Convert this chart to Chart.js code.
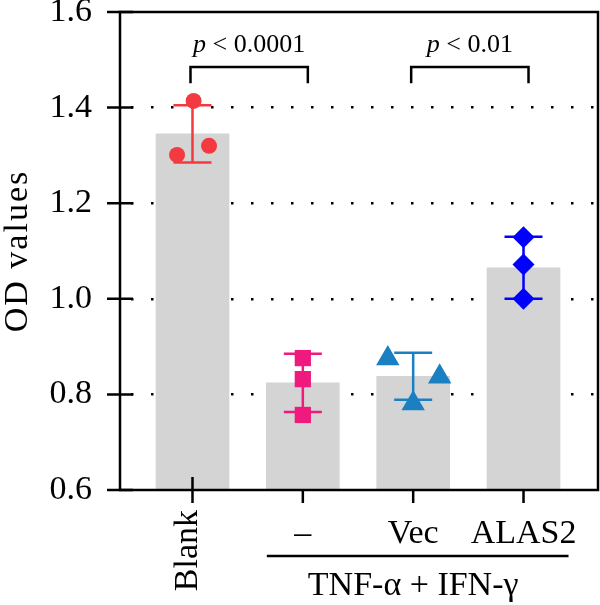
<!DOCTYPE html>
<html>
<head>
<meta charset="utf-8">
<script src="https://cdn.jsdelivr.net/npm/chart.js@4.4.0/dist/chart.umd.min.js"></script>
<style>
  html, body { margin: 0; padding: 0; background: #fff; }
  #wrap { position: relative; width: 600px; height: 605px; }
</style>
</head>
<body>
<div id="wrap"><canvas id="odChart"></canvas></div>
<script>
// ---- data ----
const groups = ['Blank', '–', 'Vec', 'ALAS2'];
const barMeans = [1.345, 0.824, 0.838, 1.065];
const errSD = [0.060, 0.061, 0.049, 0.065];
const replicates = [
    [1.414, 1.301, 1.320],
    [0.876, 0.832, 0.757],
    [0.875, 0.837, 0.781],
    [1.129, 1.072, 1.000]
];
// horizontal scatter of the replicate dots, in category units
const jitter = [
    [0.01, -0.14, 0.15],
    [0, 0, 0],
    [-0.23, 0.24, 0],
    [0, 0, 0]
];
const yTicks = [0.6, 0.8, 1.0, 1.2, 1.4, 1.6];
const comparisons = [[0, 1, '< 0.0001'], [2, 3, '< 0.01']];
const treatLabel = 'TNF-α + IFN-γ';

const pointColors = ['#f23a40', '#f01a7e', '#1a80c2', '#0000ff'];
const pointShapes = ['circle', 'rect', 'triangle', 'rectRot'];
const pointSizes = [8, 11.5, 13.5, 11];
const SERIF = '"Liberation Serif", "DejaVu Serif", serif';

// =================================================================
// 오차막대, 축 프레임, 라벨, 유의성 괄호
// =================================================================
const odDecor = {
    id: 'odDecor',
    afterDatasetDraw(chart, args) {
        if (args.index !== 0) return;
        const { ctx, scales: { x, y } } = chart;
        ctx.save();
        ctx.lineWidth = 2.5;
        barMeans.forEach((m, i) => {
            const cx = x.getPixelForValue(i);
            const top = y.getPixelForValue(m + errSD[i]);
            const bot = y.getPixelForValue(m - errSD[i]);
            ctx.strokeStyle = pointColors[i];
            ctx.beginPath();
            ctx.moveTo(cx, top); ctx.lineTo(cx, bot);
            ctx.moveTo(cx - 19, top); ctx.lineTo(cx + 19, top);
            ctx.moveTo(cx - 19, bot); ctx.lineTo(cx + 19, bot);
            ctx.stroke();
        });
        ctx.restore();
    },
    afterDraw(chart) {
        const { ctx, chartArea: a, scales: { x, y } } = chart;
        ctx.save();
        ctx.strokeStyle = '#000';
        ctx.fillStyle = '#000';
        ctx.lineWidth = 2.5;

        // frame
        ctx.strokeRect(a.left, a.top, a.right - a.left, a.bottom - a.top);

        // y ticks cross the axis
        ctx.beginPath();
        yTicks.forEach(v => {
            const py = y.getPixelForValue(v);
            ctx.moveTo(a.left - 13, py); ctx.lineTo(a.left + 13, py);
        });
        // x ticks
        groups.forEach((g, i) => {
            const px = x.getPixelForValue(i);
            ctx.moveTo(px, i === 0 ? a.bottom - 13 : a.bottom);
            ctx.lineTo(px, a.bottom + 13);
        });
        ctx.stroke();

        // y title
        ctx.save();
        ctx.font = '34px ' + SERIF;
        ctx.letterSpacing = '2px';
        ctx.translate(27, (a.top + a.bottom) / 2);
        ctx.rotate(-Math.PI / 2);
        ctx.textAlign = 'center';
        ctx.textBaseline = 'alphabetic';
        ctx.fillText('OD values', 0, 0);
        ctx.restore();

        // x labels
        ctx.font = '34px ' + SERIF;
        ctx.save();
        ctx.translate(x.getPixelForValue(0) + 5, a.bottom + 20);
        ctx.rotate(-Math.PI / 2);
        ctx.textAlign = 'right';
        ctx.textBaseline = 'alphabetic';
        ctx.fillText(groups[0], 0, 0);
        ctx.restore();

        ctx.textAlign = 'center';
        ctx.textBaseline = 'alphabetic';
        for (let i = 1; i < groups.length; i++) {
            ctx.fillText(groups[i], x.getPixelForValue(i), a.bottom + 53);
        }
        const lx1 = x.getPixelForValue(1) - 36;
        const lx2 = x.getPixelForValue(3) + 45;
        ctx.beginPath();
        ctx.moveTo(lx1, a.bottom + 66); ctx.lineTo(lx2, a.bottom + 66);
        ctx.stroke();
        ctx.fillText(treatLabel, (x.getPixelForValue(1) + x.getPixelForValue(3)) / 2, a.bottom + 105);

        // significance brackets
        const yBar = y.getPixelForValue(1.485);
        const yFoot = y.getPixelForValue(1.451);
        const yText = y.getPixelForValue(1.516);
        comparisons.forEach(([i, j, txt]) => {
            const x1 = x.getPixelForValue(i) - 2;
            const x2 = x.getPixelForValue(j) + 5;
            ctx.beginPath();
            ctx.moveTo(x1, yFoot); ctx.lineTo(x1, yBar); ctx.lineTo(x2, yBar); ctx.lineTo(x2, yFoot);
            ctx.stroke();
            ctx.textAlign = 'left';
            ctx.font = 'italic 26px ' + SERIF;
            const wp = ctx.measureText('p').width;
            ctx.font = '26px ' + SERIF;
            const wr = ctx.measureText(' ' + txt).width;
            const sx = (x1 + x2) / 2 - (wp + wr) / 2;
            ctx.font = 'italic 26px ' + SERIF;
            ctx.fillText('p', sx, yText);
            ctx.font = '26px ' + SERIF;
            ctx.fillText(' ' + txt, sx + wp, yText);
        });
        ctx.restore();
    }
};

const scatterSets = replicates.map((vals, i) => ({
    type: 'scatter',
    order: 0,
    data: vals.map((v, k) => ({ x: i + jitter[i][k], y: v })),
    pointStyle: pointShapes[i],
    pointRadius: pointSizes[i],
    pointHoverRadius: pointSizes[i],
    pointBackgroundColor: pointColors[i],
    pointBorderWidth: 0,
    borderColor: pointColors[i],
    showLine: false
}));

const noPad = s => {
    s.paddingTop = 0; s.paddingBottom = 0;
    s.paddingLeft = 0; s.paddingRight = 0;
};

new Chart(document.getElementById('odChart'), {
    type: 'bar',
    data: {
        datasets: [{
            type: 'bar',
            order: 5,
            data: barMeans.map((v, i) => ({ x: i, y: v })),
            backgroundColor: '#d4d4d4',
            barThickness: 73,
            borderWidth: 0
        }, ...scatterSets]
    },
    options: {
        responsive: true,
        maintainAspectRatio: false,
        animation: false,
        layout: { autoPadding: false, padding: { top: 12, right: 2, left: 0, bottom: 0 } },
        plugins: { legend: { display: false }, tooltip: { enabled: false } },
        scales: {
            x: {
                type: 'linear',
                offset: false,
                min: -0.657,
                max: 3.675,
                grid: { display: false, offset: false },
                border: { display: false },
                ticks: { display: false },
                afterFit: s => { s.height = 115; noPad(s); }
            },
            y: {
                min: 0.6,
                max: 1.6,
                afterBuildTicks: s => { s.ticks = yTicks.map(v => ({ value: v })); },
                grid: {
                    color: c => (c.index === 0 || c.index === yTicks.length - 1) ? 'rgba(0,0,0,0)' : '#000',
                    lineWidth: 2.5,
                    drawTicks: true,
                    tickLength: 13,
                    tickColor: 'rgba(0,0,0,0)'
                },
                border: { display: false, dash: [2.5, 17.5], dashOffset: 9 },
                ticks: {
                    color: '#000',
                    padding: 15,
                    font: { family: SERIF, size: 34 },
                    callback: v => v.toFixed(1)
                },
                afterFit: s => { s.width = 120; noPad(s); }
            }
        }
    },
    plugins: [odDecor]
});
</script>
</body>
</html>
